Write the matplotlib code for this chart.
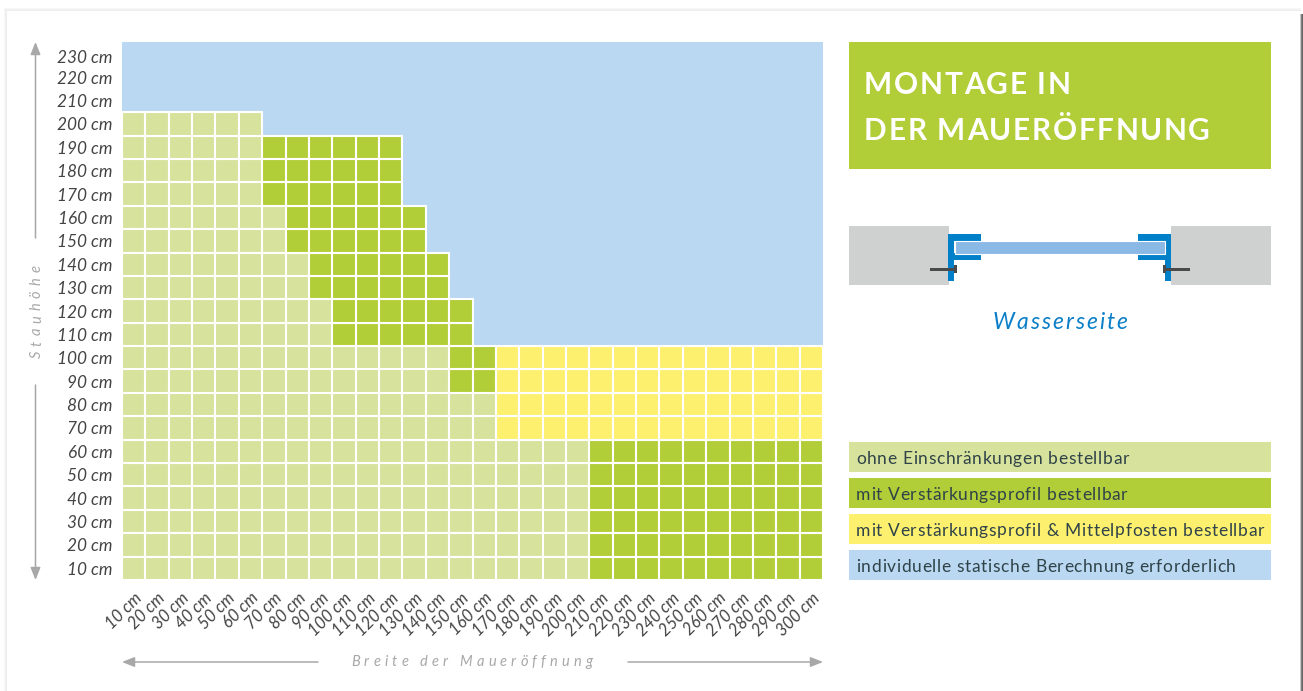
import numpy as np
import matplotlib
matplotlib.use("Agg")
import matplotlib.pyplot as plt
from matplotlib.patches import Rectangle
from matplotlib.font_manager import FontProperties
from matplotlib.textpath import text_to_path
from matplotlib.transforms import ScaledTranslation

plt.rcParams['font.family'] = ['Lato', 'DejaVu Sans']

widths_cm = list(range(10, 310, 10))
heights_cm = list(range(10, 240, 10))
# columns per height row (bottom row first): each run follows the previous one
light_cols  = [20]*6 + [16]*2 + [14]*2 + [9]*2 + [8]*2 + [7]*2 + [6]*3 + [6] + [0]*3
dark_cols   = [10]*6 + [0]*2 + [2]*2 + [6]*2 + [6]*2 + [6]*2 + [6]*3 + [0] + [0]*3
yellow_cols = [0]*6 + [14]*2 + [14]*2 + [0]*2 + [0]*2 + [0]*2 + [0]*3 + [0] + [0]*3

legend_labels = ["ohne Einschränkungen bestellbar",
                 "mit Verstärkungsprofil bestellbar",
                 "mit Verstärkungsprofil & Mittelpfosten bestellbar",
                 "individuelle statische Berechnung erforderlich"]
title_lines = ["MONTAGE IN", "DER MAUERÖFFNUNG"]

LIGHT, DARK, YELLOW, BLUE = "#d7e29c", "#b1cd37", "#fdf06f", "#bad8f2"
W, H = 1303, 691
fig = plt.figure(figsize=(W/100, H/100), dpi=100, facecolor="white")

bg = fig.add_axes([0, 0, 1, 1])
bg.set_xlim(0, W); bg.set_ylim(H, 0); bg.axis("off")

def box(x0, y0, x1, y1, color, **kw):
    bg.add_patch(Rectangle((x0, y0), x1-x0, y1-y0, fc=color, ec="none", **kw))

def spaced(x, y, s, size, spacing, color, style="normal", weight="normal", rotation=0):
    fp = FontProperties(family="Lato", style=style, weight=weight, size=size)
    ref = text_to_path.get_text_width_height_descent("x", fp, False)[0]
    def adv(t):
        return text_to_path.get_text_width_height_descent(t+"x", fp, False)[0]-ref
    for i, ch in enumerate(s):
        d = (adv(s[:i]) + i*spacing)*100/72
        px, py = (x, y-d) if rotation == 90 else (x+d, y)
        bg.text(px, py, ch, fontproperties=fp, color=color, rotation=rotation,
                rotation_mode="anchor", ha="left", va="baseline")

# page shadow
for i, c in enumerate(["#f7f7f7", "#f1f1f1", "#ededed"]):
    box(4+i, 9+i, 7, H, c)
    box(4+i, 8+i, 1301, 11, c)
for i, c in enumerate(["#c8c8c8", "#808080", "#666666"]):
    box(1300+i, 14, W, H, c)

# main grid
ax = fig.add_axes([122/W, 1-580/H, 701/W, 538/H], facecolor=BLUE)
for r, (a, b, c) in enumerate(zip(light_cols, dark_cols, yellow_cols)):
    start = 0
    for n, col in zip((a, b, c), (LIGHT, DARK, YELLOW)):
        for k in range(start, start+n):
            ax.add_patch(Rectangle((k, r), 1, 1, fc=col, ec="white", lw=1.5))
        start += n
ax.set_xlim(0, len(widths_cm)); ax.set_ylim(0, len(heights_cm))
for s in ax.spines.values():
    s.set_visible(False)
TICK = "#444444"
ax.set_xticks(np.arange(len(widths_cm))+0.5)
ax.set_xticklabels([f"{v} cm" for v in widths_cm], rotation=45, ha="right",
                   rotation_mode="anchor", style="italic", fontsize=12, color=TICK)
ax.set_yticks(np.arange(len(heights_cm))+0.5)
ax.set_yticklabels([f"{v} cm" for v in heights_cm], style="italic", fontsize=12.4, color=TICK)
ax.tick_params(length=0, axis="x", pad=7)
ax.tick_params(length=0, axis="y", pad=6.5)
ylabs = ax.get_yticklabels()
ylabs[-1].set_transform(ylabs[-1].get_transform() + ScaledTranslation(0, -3/100, fig.dpi_scale_trans))

# axis captions with arrows
G = "#a8a8a8"
def arrow(x0, y0, x1, y1):
    bg.annotate("", xy=(x1, y1), xytext=(x0, y0),
                arrowprops=dict(arrowstyle="-|>,head_length=0.75,head_width=0.3", color=G, lw=1.1,
                                shrinkA=0, shrinkB=0))
arrow(35.5, 238, 35.5, 42); arrow(35.5, 385, 35.5, 580)
arrow(318, 662, 122, 662); arrow(628, 662, 823, 662)
spaced(41, 358, "Stauhöhe", 10.5, 3.6, G, style="italic", rotation=90)
spaced(351, 666, "Breite der Maueröffnung", 10.5, 3.0, G, style="italic")

# title panel
box(849, 42, 1271, 169, DARK)
spaced(864, 94, title_lines[0], 21.5, 1.17, "white", weight="bold")
spaced(864, 140, title_lines[1], 21.5, 1.17, "white", weight="bold")

# opening schematic
GREY, PROF, GLASS, SCREW = "#cfd0d0", "#0080c9", "#8ab9e6", "#4a4a4a"
box(849, 226, 949, 285, GREY); box(1171, 226, 1271, 285, GREY)
box(948, 234, 954, 281, PROF); box(948, 234, 981, 241, PROF); box(948, 253, 981, 260, PROF)
box(1165, 234, 1171, 281, PROF); box(1138, 234, 1171, 241, PROF); box(1138, 253, 1171, 260, PROF)
bg.add_patch(Rectangle((954.5, 240.5), 210, 13, fc=GLASS, ec="white", lw=0.8))
box(930, 268, 957, 271, SCREW); box(954, 265, 957, 273, SCREW)
box(1163, 268, 1190, 271, SCREW); box(1163, 265, 1166, 273, SCREW)
spaced(993, 329, "Wasserseite", 16.5, 1.35, "#0a7fc8", style="italic")

# legend
for y, c, t in zip([442, 478, 514, 550], [LIGHT, DARK, YELLOW, BLUE], legend_labels):
    box(849, y, 1271, y+30, c)
    spaced(856, y+21.5, t, 12.5, 0.5, "#2f4349")

fig.savefig("out.png", dpi=100)
